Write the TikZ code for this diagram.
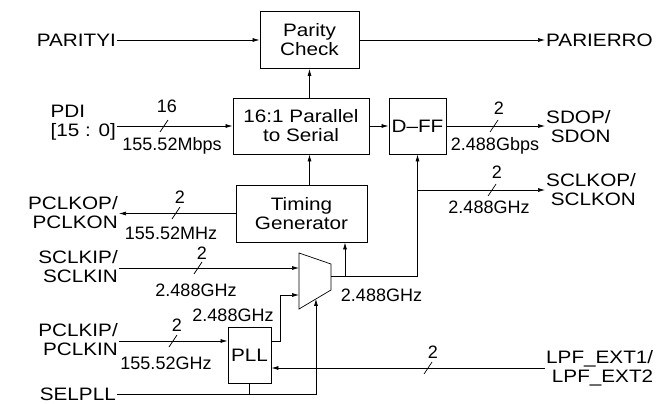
\documentclass[tikz,border=0pt]{standalone}
\usepackage{fontspec}
\setmainfont{Liberation Sans}
\newfontfamily\widesans[FakeStretch=1.15,Ligatures=TeX]{Liberation Sans}
\usepackage{tikz}
\usetikzlibrary{arrows.meta,positioning,calc}
\newcommand{\lblfont}{\fontsize{18}{19}\selectfont}
\newcommand{\pinfont}{\widesans\fontsize{18}{19}\selectfont}
\tikzset{
  blk/.style={draw, line width=0.8pt, align=center, inner sep=0pt, font=\pinfont},
  sigln/.style={-{Latex[length=7pt,width=4pt]}, line width=0.7pt},
  wireln/.style={line width=0.7pt},
  pinlbl/.style={inner sep=1pt, font=\pinfont},
  buslbl/.style={inner sep=0pt, font=\lblfont},
}
\newcommand{\busmark}[1]{%
  \draw[wireln] ($#1+(-4,6)$) -- ($#1+(4,-6)$);
}

\begin{document}
\begin{tikzpicture}[x=1pt, y=-1pt]
    \useasboundingbox (0,0) rectangle (667,404);
    % blocks
    \node[blk, minimum width=99pt, minimum height=57pt] (parity) at (309.5,40) {Parity\\Check};
    \node[blk, minimum width=136pt, minimum height=56pt] (ps) at (301,126) {16:1 Parallel\\to Serial};
    \node[blk, minimum width=57pt, minimum height=56pt] (dff) at (417.5,126) {D--FF};
    \node[blk, minimum width=131pt, minimum height=57pt] (timing) at (301.5,213.5) {Timing\\Generator};
    \node[blk, minimum width=43pt, minimum height=56pt] (pll) at (249.5,355) {PLL};
    % selector
    \coordinate (mtl) at (299,253);
    \coordinate (mtr) at (331,264);
    \coordinate (mbr) at (331,290);
    \coordinate (mbl) at (299,309);
    \draw[wireln] (mtl) -- (mtr) -- (mbr) -- (mbl) -- cycle;
    \coordinate (muxout) at (331,276);
    \coordinate (muxin1) at (299,268);
    \coordinate (muxin2) at (299,295);
    \coordinate (selmux) at ($(mbl)!0.53!(mbr)$);
    % pins
    \node[pinlbl, anchor=east] (parin) at (117,40) {PARITYI};
    \node[pinlbl, anchor=west] (parout) at (545,40) {PARIERRO};
    \node[pinlbl, anchor=east, align=left] (pdi) at (117,123) {PDI\\{[15 : 0]}};
    \node[pinlbl, anchor=west, align=right] (sdop) at (545,127) {SDOP/\\SDON};
    \node[pinlbl, anchor=west, align=right] (sclkop) at (545,190) {SCLKOP/\\SCLKON};
    \node[pinlbl, anchor=east, align=right] (pclkop) at (119,213) {PCLKOP/\\PCLKON};
    \node[pinlbl, anchor=east, align=right] (sclkip) at (119,267) {SCLKIP/\\SCLKIN};
    \node[pinlbl, anchor=east, align=right] (pclkip) at (119,340) {PCLKIP/\\PCLKIN};
    \node[pinlbl, anchor=west, align=right] (lpf) at (545,368) {LPF\_EXT1/\\LPF\_EXT2};
    \node[pinlbl, anchor=east] (selpll) at (117,394) {SELPLL};
    % data path
    \draw[sigln] (parin.east) -- (parin.east -| parity.west);
    \draw[sigln] (parity.east) -- (parity.east -| parout.west);
    \draw[sigln] (pdi.east |- ps.west) -- (ps.west);
    \draw[sigln] (ps.east) -- (dff.west);
    \draw[sigln] (dff.east) -- (dff.east -| sdop.west);
    \draw[sigln] (parity.south |- ps.north) -- (parity.south);
    \draw[sigln] (parity.south |- timing.north) -- (parity.south |- ps.south);
    % clocks
    \coordinate (clkup) at (muxout -| dff.south);
    \coordinate (tgtap) at (345,276);
    \draw[sigln] (muxout) -- (clkup) -- (dff.south);
    \draw[sigln] (clkup |- sclkop.west) -- (sclkop.west);
    \draw[sigln] (tgtap) -- (tgtap |- timing.south);
    \draw[sigln] (timing.west) -- (timing.west -| pclkop.east);
    \draw[sigln] (sclkip.east |- muxin1) -- (muxin1);
    \coordinate (pllout) at ($(pll.east)+(0,-14)$);
    \draw[sigln] (pllout) -- ++(9,0) |- (muxin2);
    \draw[sigln] (pclkip.east |- pllout) -- (pllout -| pll.west);
    \draw[sigln] (lpf.west) -- (lpf.west -| pll.east);
    \draw[sigln] (selpll.east) -| (selmux);
    \draw[wireln] (pll.south |- selpll.east) -- (pll.south);
    % bus widths and rates
    \busmark{(164,126)}
    \node[buslbl] (w16) at (167,106) {16};
    \node[buslbl] (r16) at (172,146) {155.52Mbps};
    \busmark{(494,126)}
    \node[buslbl] (wsd) at (499,108) {2};
    \node[buslbl] (rsd) at (495,146) {2.488Gbps};
    \busmark{(492,190)}
    \node[buslbl] (wsco) at (497,172) {2};
    \node[buslbl] (rsco) at (489,207) {2.488GHz};
    \busmark{(176,213)}
    \node[buslbl] (wpco) at (180,197) {2};
    \node[buslbl] (rpco) at (171,233) {155.52MHz};
    \busmark{(198,268)}
    \node[buslbl] (wsci) at (202,253) {2};
    \node[buslbl] (rsci) at (196,290) {2.488GHz};
    \busmark{(173,341)}
    \node[buslbl] (wpci) at (177,325) {2};
    \node[buslbl] (rpci) at (166,363) {155.52GHz};
    \node[buslbl] (rpll) at (233,315) {2.488GHz};
    \node[buslbl] (rmux) at (381.5,295) {2.488GHz};
    \busmark{(428,368)}
    \node[buslbl] (wlpf) at (433,352) {2};
\end{tikzpicture}
\end{document}
